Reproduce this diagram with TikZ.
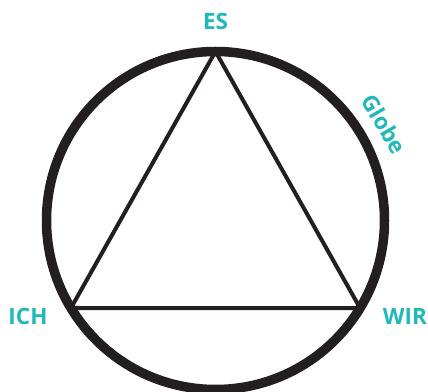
\documentclass[tikz,border=0pt]{standalone}
\usepackage{fontspec}
\setmainfont{Open Sans}
\usepackage{tikz}
\definecolor{tuerkis}{RGB}{32,185,185}
\definecolor{tinte}{RGB}{35,31,32}

\begin{document}
\begin{tikzpicture}[
  x=1pt, y=1pt,
  ring/.style={draw=tinte, line width=9.5pt},
  kante/.style={draw=tinte, line width=4pt, line join=miter},
  beschr/.style={text=tuerkis, font=\bfseries\fontsize{22.5}{22.5}\selectfont, inner sep=0pt}
]
\useasboundingbox (0,0) rectangle (428,391);
\coordinate (mitte) at (215.5,170.5);
\draw[ring] (mitte) circle[radius=169];

\coordinate (es) at ([shift={(90:169)}]mitte);
\coordinate (ich) at ([shift={(211.2:169)}]mitte);
\coordinate (wir) at ([shift={(328.8:169)}]mitte);
\draw[kante] (es) -- (ich) -- (wir) -- cycle;

\node[beschr] (es-text) at (215.5,370) {ES};
\node[beschr] (ich-text) at (28,75) {ICH};
\node[beschr] (wir-text) at (405,75) {WIR};
\node[beschr, rotate=-60] (globe) at (384,267) {Globe};
\end{tikzpicture}
\end{document}
